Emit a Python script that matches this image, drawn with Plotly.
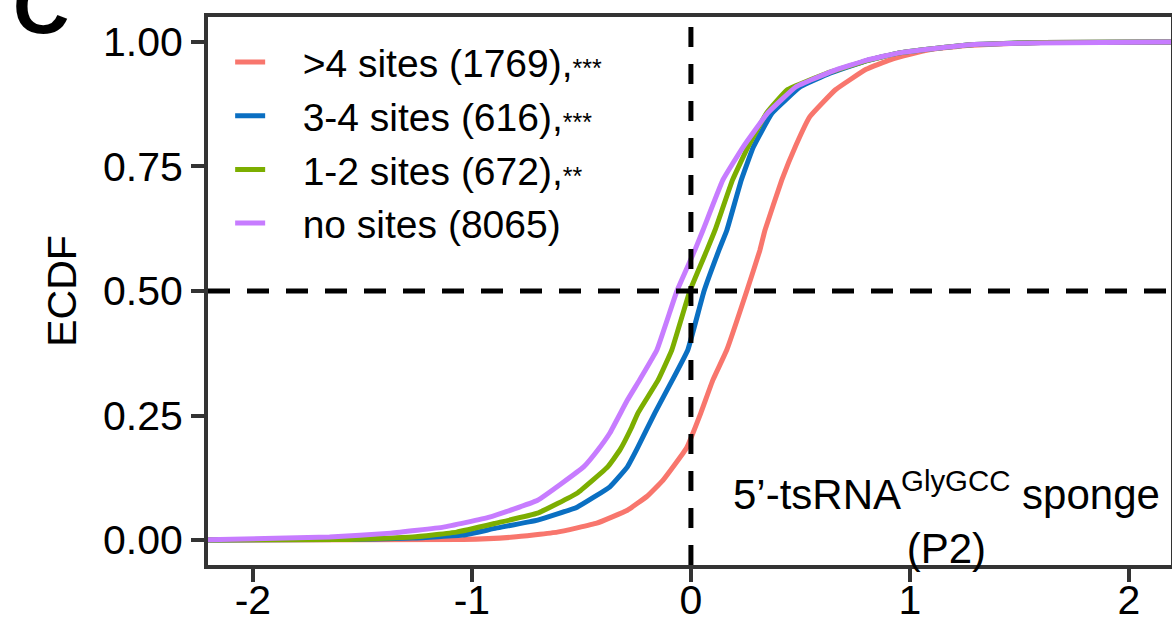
import plotly.graph_objects as go

# ---- data (ECDF points) ----
series_names = [">4 sites (1769),", "3-4 sites (616),", "1-2 sites (672),", "no sites (8065)"]
series_stars = ["***", "***", "**", ""]
series_colors = ["#F8766D", "#0A6FC2", "#7CAE00", "#C77CFF"]

red_x = [-2.3, -1.04, -0.81, -0.61, -0.43, -0.29, -0.2, -0.128, -0.02, 0.045, 0.10, 0.164, 0.255, 0.315, 0.338,
         0.415, 0.48, 0.543, 0.66, 0.80, 0.91, 1.0, 1.1, 1.26, 1.6, 2.3]
red_y = [0.0, 0.001, 0.006, 0.016, 0.034, 0.06, 0.088, 0.12, 0.185, 0.255, 0.321, 0.382, 0.5, 0.582, 0.622,
         0.723, 0.793, 0.85, 0.904, 0.945, 0.964, 0.975, 0.985, 0.993, 0.999, 1.0]

blue_x = [-2.3, -1.6, -1.27, -1.04, -0.89, -0.70, -0.52, -0.37, -0.29, -0.245, -0.165, -0.085, -0.014,
          0.06, 0.128, 0.164, 0.23, 0.285, 0.37, 0.50, 0.635, 0.80, 0.95, 1.26, 1.6, 2.3]
blue_y = [0.0, 0.001, 0.004, 0.01, 0.024, 0.04, 0.066, 0.107, 0.147, 0.184, 0.255, 0.321, 0.382,
          0.5, 0.582, 0.622, 0.723, 0.789, 0.857, 0.91, 0.937, 0.962, 0.978, 0.994, 0.999, 1.0]

green_x = [-2.3, -1.6, -1.27, -1.07, -0.89, -0.70, -0.52, -0.38, -0.324, -0.27, -0.242, -0.15, -0.087,
           -0.005, 0.073, 0.11, 0.19, 0.26, 0.345, 0.44, 0.62, 0.80, 0.95, 1.26, 1.6, 2.3]
green_y = [0.0, 0.001, 0.006, 0.016, 0.034, 0.054, 0.094, 0.147, 0.181, 0.227, 0.255, 0.321, 0.382,
           0.5, 0.582, 0.622, 0.723, 0.789, 0.857, 0.904, 0.937, 0.962, 0.978, 0.994, 0.999, 1.0]

purple_x = [-2.3, -1.65, -1.37, -1.13, -0.92, -0.70, -0.49, -0.425, -0.37, -0.29, -0.235, -0.155, -0.064,
            0.018, 0.055, 0.146, 0.238, 0.35, 0.48, 0.65, 0.80, 0.95, 1.26, 1.56, 2.3]
purple_y = [0.0, 0.006, 0.014, 0.026, 0.046, 0.08, 0.147, 0.181, 0.215, 0.281, 0.321, 0.382, 0.5,
            0.582, 0.622, 0.723, 0.789, 0.857, 0.91, 0.942, 0.963, 0.978, 0.994, 0.998, 1.0]

series_x = [red_x, blue_x, green_x, purple_x]
series_y = [red_y, blue_y, green_y, purple_y]

x_ticks = [-2, -1, 0, 1, 2]
x_ticktext = ["-2", "-1", "0", "1", "2"]
y_ticks = [0, 0.25, 0.5, 0.75, 1.0]
y_ticktext = ["0.00", "0.25", "0.50", "0.75", "1.00"]

FONT = "Arial, Liberation Sans, sans-serif"
NB = "\u00a0"

fig = go.Figure()
for name, stars, color, xs, ys in zip(series_names, series_stars, series_colors, series_x, series_y):
    label = NB * 3 + name
    if stars:
        label += "<span style='font-size:25px'>" + stars + "</span>"
    fig.add_trace(go.Scatter(
        x=xs, y=ys, mode="lines", name=label,
        line=dict(color=color, width=5, shape="spline", smoothing=0.3),
    ))

# dashed reference lines
fig.add_shape(type="line", xref="x", yref="paper", x0=0, x1=0, y0=0, y1=1,
              line=dict(color="black", width=5, dash="20px,17px"))
fig.add_shape(type="line", xref="paper", yref="y", x0=0, x1=1, y0=0.5, y1=0.5,
              line=dict(color="black", width=5, dash="22px,17px"))

fig.add_annotation(
    x=1.165, y=0.044, xref="x", yref="y",
    text="5\u2019-tsRNA<sup>GlyGCC</sup> sponge<br>(P2)",
    showarrow=False, font=dict(family=FONT, size=42, color="black"),
    align="center", xanchor="center", yanchor="middle",
)
fig.add_annotation(
    x=-0.205, y=1.02, xref="paper", yref="paper", text="<b>C</b>",
    showarrow=False, font=dict(family=FONT, size=78, color="black"),
    xanchor="left", yanchor="middle",
)

axis_common = dict(
    showline=True, mirror=True, linewidth=4, linecolor="#333333",
    ticks="outside", ticklen=13, tickwidth=4, tickcolor="#333333",
    showgrid=False, zeroline=False, automargin=False,
    tickfont=dict(family=FONT, size=41, color="black"),
)

fig.update_xaxes(range=[-2.205, 2.192], tickvals=x_ticks, ticktext=x_ticktext,
                 ticklabelstandoff=-17, **axis_common)
fig.update_yaxes(range=[-0.05, 1.05], tickvals=y_ticks, ticktext=y_ticktext,
                 title=dict(text="ECDF", font=dict(family=FONT, size=41, color="black"), standoff=15),
                 **axis_common)

fig.update_layout(
    width=1172, height=620,
    margin=dict(l=208, r=1, t=17, b=55, autoexpand=False),
    paper_bgcolor="white", plot_bgcolor="white",
    showlegend=True,
    legend=dict(
        x=0.023, y=0.976, xanchor="left", yanchor="top",
        bgcolor="rgba(0,0,0,0)", borderwidth=0,
        font=dict(family=FONT, size=39, color="black"),
        tracegroupgap=0,
    ),
)

fig.write_html("out.html")
